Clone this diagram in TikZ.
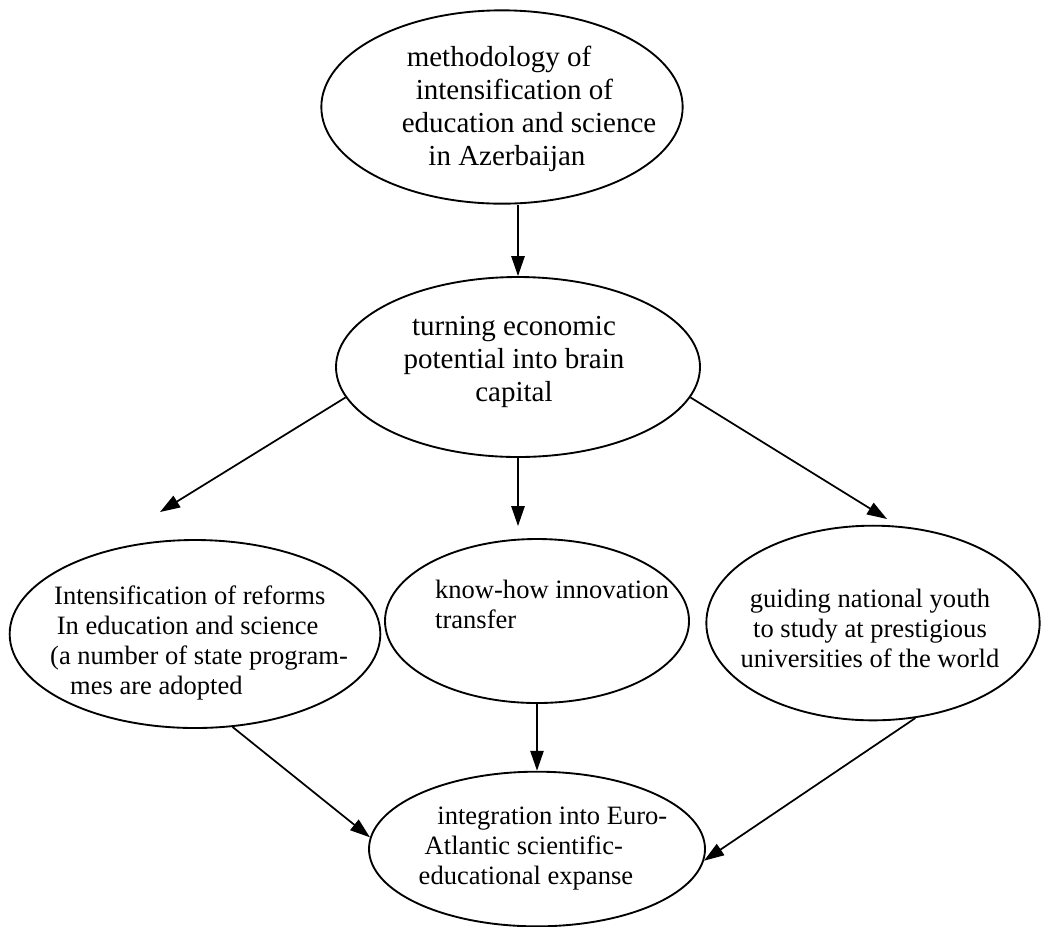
\documentclass[tikz,border=0pt]{standalone}
\usepackage{fontspec}
\setmainfont{Liberation Serif}
\usetikzlibrary{arrows.meta,shapes.geometric}

\tikzset{
  oval/.style={draw, ellipse, line width=1.4pt, inner sep=0pt},
  bigtxt/.style={inner sep=0pt, font=\fontsize{21.75}{24.75}\selectfont},
  smalltxt/.style={inner sep=0pt, font=\fontsize{19.9}{22.5}\selectfont},
  >={Triangle[length=15pt,width=10pt]}
}

\begin{document}
\begin{tikzpicture}[x=0.75pt,y=-0.75pt,line width=1.3pt]
  \useasboundingbox (0,0) rectangle (1041,926);
  % ovals
  \node[oval, minimum width=271pt, minimum height=145pt] (method) at (502,107) {};
  \node[oval, minimum width=273pt, minimum height=135pt] (brain) at (518,367) {};
  \node[oval, minimum width=278pt, minimum height=141pt] (reform) at (195,634) {};
  \node[oval, minimum width=228pt, minimum height=123pt] (knowhow) at (537,621) {};
  \node[oval, minimum width=250pt, minimum height=146pt] (youth) at (873,623) {};
  \node[oval, minimum width=252pt, minimum height=116pt] (euro) at (537,849) {};
  % texts
  \node[bigtxt, align=left] (methodT) at (529,109)
    {\hspace*{3.75pt}methodology of\\\hspace*{10.5pt}intensification of\\education and science\\\hspace*{20pt}in Azerbaijan};
  \node[bigtxt, align=center] (brainT) at (514,362)
    {turning economic\\potential into brain\\capital};
  \node[smalltxt, align=left] (reformT) at (199,643)
    {\hspace*{3pt}Intensification of reforms\\\hspace*{5pt}In education and science\\(a number of state program-\\\hspace*{15pt}mes are adopted};
  \node[smalltxt, align=left] (knowhowT) at (552,604)
    {know-how innovation\\transfer};
  \node[smalltxt, align=center] (youthT) at (870,628)
    {guiding national youth\\to study at prestigious\\universities of the world};
  \node[smalltxt, align=left] (euroT) at (543,849)
    {\hspace*{14pt}integration into Euro-\\\hspace*{4.5pt}Atlantic scientific-\\educational expanse};
  % arrow ends
  \coordinate (tipL) at (160,512);
  \coordinate (tipR) at (887,519);
  \draw[->] (method.south -| brain.north) -- (brain.north);
  \draw[->] (brain.190) -- (tipL);
  \draw[->, shorten >=9pt] (brain.south) -- (brain.south |- knowhow.north);
  \draw[->] (brain.350) -- (tipR);
  \draw[->] (reform.292) -- (euro.176);
  \draw[->] (knowhow.south) -- (euro.north);
  \draw[->] (youth.294) -- (euro.356);
\end{tikzpicture}
\end{document}
